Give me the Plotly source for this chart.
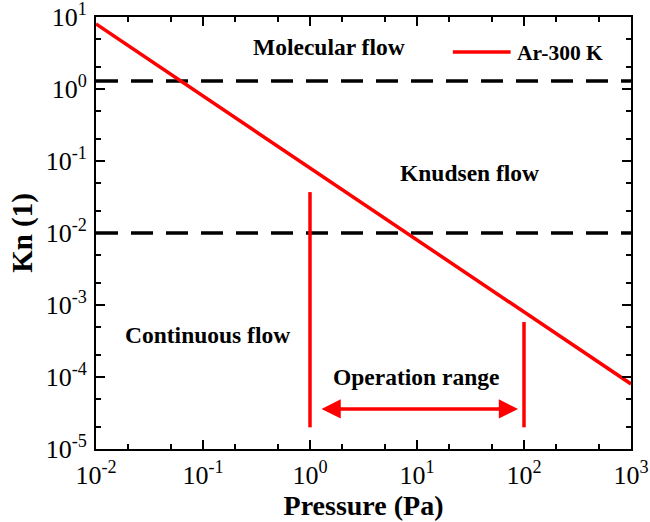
import plotly.graph_objects as go
import numpy as np

# Data
pressure = [1e-2, 1e-1, 1e0, 1e1, 1e2, 1e3]
kn_ar300 = [8.0, 0.8, 0.08, 0.008, 8e-4, 8e-5]
regime_bounds = [1.29, 1e-2]
op_range_p = [1, 100]
op_line_low = [2e-5, 2e-5]
op_line_high = [0.037, 5.8e-4]
x_tickvals = [1e-2, 1e-1, 1e0, 1e1, 1e2, 1e3]
x_ticktext = ["10<sup>-2</sup>", "10<sup>-1</sup>", "10<sup>0</sup>", "10<sup>1</sup>", "10<sup>2</sup>", "10<sup>3</sup>"]
y_tickvals = [1e-5, 1e-4, 1e-3, 1e-2, 1e-1, 1e0, 1e1]
y_ticktext = ["10<sup>-5</sup>", "10<sup>-4</sup>", "10<sup>-3</sup>", "10<sup>-2</sup>", "10<sup>-1</sup>", "10<sup>0</sup>", "10<sup>1</sup>"]
series_name = "Ar-300 K"

RED = "#ff0000"
FONT = "Liberation Serif"

fig = go.Figure()

for yb in regime_bounds:
    fig.add_trace(go.Scatter(x=[1e-2, 1e3], y=[yb, yb], mode="lines",
                             line=dict(color="black", width=3.5, dash="22px,13px"),
                             showlegend=False, hoverinfo="skip"))

fig.add_trace(go.Scatter(x=pressure, y=kn_ar300, mode="lines", name=series_name,
                         line=dict(color=RED, width=3.5), showlegend=False))

for p, lo, hi in zip(op_range_p, op_line_low, op_line_high):
    fig.add_trace(go.Scatter(x=[p, p], y=[lo, hi], mode="lines",
                             line=dict(color=RED, width=3.5),
                             showlegend=False, hoverinfo="skip"))

lg = np.log10
fig.add_annotation(x=lg(88), y=lg(3.6e-5), ax=lg(1.24), ay=lg(3.6e-5),
                   xref="x", yref="y", axref="x", ayref="y", text="",
                   showarrow=True, arrowhead=2, arrowside="end+start",
                   arrowsize=1.1, arrowwidth=3.5, arrowcolor=RED)

texts = [("Molecular flow", 1.52, 3.8), ("Knudsen flow", 31, 0.068),
         ("Continuous flow", 0.111, 3.8e-4), ("Operation range", 9.8, 1e-4)]
for t, x, y in texts:
    fig.add_annotation(x=lg(x), y=lg(y), xref="x", yref="y", text="<b>%s</b>" % t,
                       showarrow=False, font=dict(family=FONT, size=23.5, color="black"))

# legend (drawn manually to match long sample line)
fig.add_shape(type="line", xref="paper", yref="paper", x0=0.667, x1=0.775, y0=0.919, y1=0.919,
              line=dict(color=RED, width=3.5))
fig.add_annotation(x=0.784, y=0.916, xref="paper", yref="paper", xanchor="left", yanchor="middle",
                   text="<b>%s</b>" % series_name, showarrow=False,
                   font=dict(family=FONT, size=21.5, color="black"))

axis_common = dict(type="log", showline=True, linecolor="black", linewidth=2,
                   mirror="ticks", ticks="inside", ticklen=9, tickwidth=2, tickcolor="black",
                   showgrid=False, zeroline=False, ticklabeloverflow="allow",
                   minor=dict(ticks="inside", ticklen=5, tickwidth=1.5, tickcolor="black", showgrid=False),
                   tickfont=dict(family=FONT, size=26, color="black"))

fig.update_xaxes(range=[-2, 3], tickvals=x_tickvals, ticktext=x_ticktext, ticklabelstandoff=2,
                 title=dict(text="<b>Pressure (Pa)</b>", font=dict(family=FONT, size=28, color="black"), standoff=0),
                 **axis_common)
fig.update_yaxes(range=[-5, 1], tickvals=y_tickvals, ticktext=y_ticktext, ticklabelstandoff=2,
                 title=dict(text="<b>Kn (1)</b>", font=dict(family=FONT, size=29, color="black"), standoff=4),
                 **axis_common)

fig.update_layout(width=650, height=522, margin=dict(l=96, r=19, t=17, b=73, autoexpand=False),
                  plot_bgcolor="white", paper_bgcolor="white", showlegend=False,
                  font=dict(family=FONT))

fig.write_html("out.html")
